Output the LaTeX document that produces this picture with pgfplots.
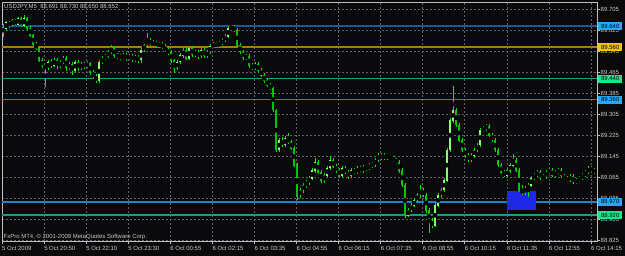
\documentclass[border=0pt]{standalone}
\usepackage{fontspec}
\setmainfont{Liberation Sans}
\usepackage{pgfplots}
\usepackage{pgfplotstable}
\pgfplotsset{compat=1.18}
\definecolor{bg}{RGB}{10,10,12}
\definecolor{gridc}{RGB}{95,95,105}
\definecolor{axisc}{RGB}{190,190,190}
\definecolor{labc}{RGB}{200,200,200}
\definecolor{wickc}{RGB}{0,235,0}
\definecolor{bullc}{RGB}{140,255,110}
\definecolor{bearc}{RGB}{0,200,0}
\definecolor{levA}{RGB}{25,90,135}
\definecolor{levB}{RGB}{170,125,0}
\definecolor{levC}{RGB}{20,160,120}
\definecolor{levD}{RGB}{20,135,210}
\definecolor{boxA}{RGB}{30,170,255}
\definecolor{boxB}{RGB}{245,196,0}
\definecolor{boxC}{RGB}{25,230,140}
\definecolor{zone}{RGB}{30,40,230}

\pgfplotstableread{
x o h l c
3 89.620 89.650 89.600 89.632
6 89.632 89.662 89.625 89.655
9 89.655 89.660 89.635 89.644
12 89.644 89.667 89.640 89.663
15 89.663 89.668 89.645 89.648
18 89.648 89.675 89.644 89.670
21 89.670 89.674 89.636 89.640
24 89.640 89.682 89.636 89.670
27 89.670 89.675 89.625 89.632
30 89.632 89.640 89.600 89.606
33 89.606 89.612 89.565 89.571
36 89.571 89.580 89.549 89.556
39 89.556 89.560 89.505 89.510
42 89.510 89.520 89.480 89.488
45 89.488 89.495 89.408 89.480
48 89.480 89.510 89.472 89.503
51 89.503 89.515 89.480 89.491
54 89.491 89.520 89.484 89.510
57 89.510 89.518 89.478 89.488
60 89.488 89.512 89.480 89.503
63 89.503 89.526 89.494 89.518
66 89.518 89.526 89.470 89.480
69 89.480 89.505 89.472 89.495
72 89.495 89.503 89.455 89.472
75 89.472 89.512 89.465 89.503
78 89.503 89.512 89.470 89.480
81 89.480 89.505 89.472 89.495
84 89.495 89.505 89.478 89.488
87 89.488 89.508 89.480 89.499
90 89.499 89.506 89.455 89.465
93 89.465 89.472 89.440 89.449
96 89.449 89.457 89.422 89.434
99 89.434 89.510 89.426 89.503
102 89.503 89.526 89.495 89.518
105 89.518 89.535 89.510 89.526
108 89.526 89.550 89.518 89.541
111 89.541 89.566 89.533 89.556
114 89.556 89.564 89.520 89.529
117 89.529 89.538 89.515 89.526
120 89.526 89.535 89.512 89.522
123 89.522 89.538 89.514 89.529
126 89.529 89.537 89.508 89.518
129 89.518 89.535 89.510 89.526
132 89.526 89.534 89.504 89.514
135 89.514 89.530 89.506 89.522
138 89.522 89.530 89.500 89.510
141 89.510 89.556 89.502 89.549
144 89.549 89.574 89.541 89.568
147 89.568 89.617 89.560 89.587
150 89.587 89.594 89.563 89.571
153 89.571 89.587 89.563 89.579
156 89.579 89.586 89.560 89.568
159 89.568 89.580 89.560 89.571
162 89.571 89.580 89.555 89.564
165 89.564 89.571 89.540 89.549
168 89.549 89.556 89.532 89.541
171 89.541 89.549 89.500 89.510
174 89.510 89.518 89.461 89.480
177 89.480 89.512 89.472 89.503
180 89.503 89.537 89.495 89.529
183 89.529 89.556 89.520 89.549
186 89.549 89.558 89.510 89.518
189 89.518 89.564 89.510 89.556
192 89.556 89.564 89.525 89.533
195 89.533 89.550 89.524 89.541
198 89.541 89.549 89.517 89.526
201 89.526 89.556 89.518 89.549
204 89.549 89.557 89.520 89.529
207 89.529 89.550 89.520 89.541
210 89.541 89.571 89.533 89.564
213 89.564 89.580 89.556 89.571
216 89.571 89.580 89.560 89.568
219 89.568 89.583 89.560 89.575
222 89.575 89.594 89.567 89.587
225 89.587 89.610 89.579 89.602
228 89.602 89.640 89.594 89.632
231 89.632 89.645 89.621 89.640
234 89.640 89.644 89.617 89.625
237 89.625 89.632 89.560 89.568
240 89.568 89.576 89.533 89.541
243 89.541 89.549 89.510 89.518
246 89.518 89.535 89.510 89.526
249 89.526 89.534 89.480 89.491
252 89.491 89.499 89.472 89.480
255 89.480 89.503 89.472 89.495
258 89.495 89.503 89.464 89.472
261 89.472 89.480 89.445 89.453
264 89.453 89.461 89.426 89.434
267 89.434 89.442 89.407 89.415
270 89.415 89.422 89.396 89.404
273 89.404 89.410 89.312 89.320
276 89.320 89.326 89.160 89.168
279 89.168 89.214 89.160 89.206
282 89.206 89.216 89.179 89.187
285 89.187 89.222 89.179 89.213
288 89.213 89.234 89.190 89.198
291 89.198 89.206 89.167 89.175
294 89.175 89.184 89.103 89.110
297 89.110 89.118 88.977 88.996
300 88.996 89.023 88.986 89.015
303 89.015 89.044 89.006 89.034
306 89.034 89.054 89.024 89.046
309 89.046 89.069 89.036 89.061
312 89.061 89.099 89.053 89.091
315 89.091 89.139 89.083 89.122
318 89.122 89.130 89.076 89.084
321 89.084 89.092 89.045 89.053
324 89.053 89.079 89.042 89.072
327 89.072 89.107 89.064 89.099
330 89.099 89.144 89.091 89.130
333 89.130 89.138 89.099 89.107
336 89.107 89.115 89.083 89.091
339 89.091 89.099 89.064 89.072
342 89.072 89.107 89.064 89.099
345 89.099 89.107 89.076 89.084
348 89.084 89.092 89.060 89.068
351 89.068 89.099 89.060 89.091
354 89.091 89.099 89.076 89.084
357 89.084 89.107 89.076 89.099
360 89.099 89.107 89.083 89.091
363 89.091 89.111 89.083 89.103
366 89.103 89.110 89.091 89.099
369 89.099 89.118 89.091 89.110
372 89.110 89.122 89.102 89.114
375 89.114 89.137 89.106 89.130
378 89.130 89.156 89.122 89.148
381 89.148 89.159 89.129 89.137
384 89.137 89.156 89.129 89.148
387 89.148 89.156 89.133 89.141
390 89.141 89.149 89.129 89.137
393 89.137 89.145 89.122 89.130
396 89.130 89.138 89.114 89.122
399 89.122 89.130 89.083 89.091
402 89.091 89.099 89.026 89.034
405 89.034 89.042 88.908 88.920
408 88.920 88.949 88.912 88.939
411 88.939 88.966 88.931 88.958
414 88.958 88.984 88.950 88.977
417 88.977 89.004 88.969 88.996
420 88.996 89.034 88.986 89.015
423 89.015 89.023 88.988 88.996
426 88.996 89.004 88.931 88.939
429 88.939 88.947 88.851 88.893
432 88.893 88.909 88.871 88.882
435 88.882 88.966 88.874 88.958
438 88.958 89.003 88.950 88.996
441 88.996 89.024 88.986 89.015
444 89.015 89.062 89.007 89.053
447 89.053 89.176 89.045 89.168
450 89.168 89.290 89.160 89.282
453 89.282 89.415 89.274 89.320
456 89.320 89.328 89.255 89.263
459 89.263 89.271 89.198 89.206
462 89.206 89.214 89.160 89.168
465 89.168 89.176 89.140 89.148
468 89.148 89.156 89.122 89.130
471 89.130 89.156 89.122 89.148
474 89.148 89.176 89.140 89.168
477 89.168 89.195 89.160 89.187
480 89.187 89.252 89.179 89.244
483 89.244 89.259 89.236 89.251
486 89.251 89.269 89.243 89.259
489 89.259 89.267 89.217 89.225
492 89.225 89.233 89.198 89.206
495 89.206 89.214 89.160 89.168
498 89.168 89.176 89.103 89.110
501 89.110 89.118 89.076 89.084
504 89.084 89.092 89.064 89.072
507 89.072 89.099 89.064 89.091
510 89.091 89.118 89.083 89.110
513 89.110 89.152 89.102 89.130
516 89.130 89.138 89.083 89.091
519 89.091 89.099 89.007 89.015
522 89.015 89.034 88.996 89.007
525 89.007 89.031 88.999 89.023
528 89.023 89.042 88.991 89.034
531 89.034 89.069 89.026 89.061
534 89.061 89.080 89.053 89.072
537 89.072 89.092 89.064 89.084
540 89.084 89.092 89.053 89.061
543 89.061 89.076 89.053 89.068
546 89.068 89.092 89.060 89.084
549 89.084 89.099 89.076 89.091
552 89.091 89.099 89.064 89.072
555 89.072 89.092 89.064 89.084
558 89.084 89.099 89.076 89.091
561 89.091 89.099 89.060 89.068
564 89.068 89.076 89.053 89.061
567 89.061 89.069 89.045 89.053
570 89.053 89.076 89.045 89.068
573 89.068 89.076 89.038 89.046
576 89.046 89.061 89.038 89.053
579 89.053 89.069 89.045 89.061
582 89.061 89.080 89.053 89.072
585 89.072 89.092 89.064 89.084
588 89.084 89.107 89.076 89.099
591 89.099 89.107 89.083 89.091
594 89.091 89.099 89.076 89.084
}\candles

\begin{document}
\begin{tikzpicture}
\useasboundingbox (-2bp,-15bp) rectangle (623bp,241bp);
\fill[bg] (-2bp,-15bp) rectangle (623bp,241bp);
\begin{axis}[
  at={(0,0)}, anchor=south west, scale only axis,
  width=595bp, height=239bp,
  xmin=2, xmax=597, ymin=88.821, ymax=89.732,
  clip=false,
  axis background/.style={fill=bg},
  axis line style={draw=axisc, line width=0.8bp},
  xtick={2,44.07,86.13,128.2,170.27,212.33,254.4,296.47,338.53,380.6,422.67,464.73,506.8,548.87,590.93},
  xticklabels={5 Oct 2009,5 Oct 20:50,5 Oct 22:10,5 Oct 23:30,6 Oct 00:55,6 Oct 02:15,6 Oct 03:35,6 Oct 04:55,6 Oct 06:15,6 Oct 07:35,6 Oct 08:55,6 Oct 10:15,6 Oct 11:35,6 Oct 12:55,6 Oct 14:15},
  minor x tick num=1,
  ytick={88.825,88.905,88.985,89.065,89.145,89.225,89.305,89.385,89.465,89.545,89.625,89.705},
  yticklabels={88.825,88.905,88.985,89.065,89.145,89.225,89.305,89.385,89.465,89.545,89.625,89.705},
  xtick pos=left, ytick pos=right,
  tick align=outside, major tick length=3bp, minor tick length=0pt,
  tick style={draw=axisc, line width=0.6bp},
  grid=both,
  major grid style={draw=gridc, dash pattern=on 2bp off 2bp, line width=0.6bp},
  minor grid style={draw=gridc, dash pattern=on 2bp off 2bp, line width=0.6bp},
  xticklabel style={anchor=north west, inner sep=0pt, yshift=-2.5bp, text=labc, font=\fontsize{6}{7}\selectfont},
  yticklabel style={anchor=west, inner sep=0pt, xshift=0.5bp, text=labc, font=\fontsize{6}{7}\selectfont},
]
% level lines
\addplot[draw=levA, line width=1.4bp, forget plot] coordinates {(2,89.640) (597,89.640)};
\addplot[draw=levB, line width=1.4bp, forget plot] coordinates {(2,89.560) (597,89.560)};
\addplot[draw=levC, line width=1.4bp, forget plot] coordinates {(2,89.440) (597,89.440)};
\addplot[draw=levD, line width=1.4bp, forget plot] coordinates {(2,89.360) (597,89.360)};
\addplot[draw=levD, line width=1.4bp, forget plot] coordinates {(2,88.970) (597,88.970)};
\addplot[draw=levC, line width=1.4bp, forget plot] coordinates {(2,88.920) (597,88.920)};
% zone rectangle
\addplot[fill=zone, draw=none, forget plot] coordinates {(507,89.013) (536,89.013) (536,88.941) (507,88.941)} -- cycle;
% wicks
\addplot[only marks, mark=none, forget plot,
  error bars/.cd, y dir=both, y explicit, error mark=none,
  error bar style={draw=wickc, solid, line width=0.9bp}]
  table[x=x, y expr={(\thisrow{h}+\thisrow{l})/2}, y error expr={(\thisrow{h}-\thisrow{l})/2}] {\candles};
% bull bodies
\addplot[only marks, mark=none, forget plot,
  restrict expr to domain={\thisrow{c}-\thisrow{o}}{0:1},
  error bars/.cd, y dir=both, y explicit, error mark=none,
  error bar style={draw=bullc, solid, line width=2.4bp}]
  table[x=x, y expr={(\thisrow{o}+\thisrow{c})/2}, y error expr={abs(\thisrow{c}-\thisrow{o})/2+0.001}] {\candles};
% bear bodies
\addplot[only marks, mark=none, forget plot,
  restrict expr to domain={\thisrow{c}-\thisrow{o}}{-1:-0.0005},
  error bars/.cd, y dir=both, y explicit, error mark=none,
  error bar style={draw=bearc, solid, line width=2.4bp}]
  table[x=x, y expr={(\thisrow{o}+\thisrow{c})/2}, y error expr={abs(\thisrow{c}-\thisrow{o})/2+0.001}] {\candles};
% price labels on the right
\begin{scope}[every node/.style={anchor=west, inner sep=0pt, minimum width=24bp, minimum height=8bp, text=black, font=\fontsize{6}{7}\selectfont, xshift=1bp}]
\node[fill=boxA] at (axis cs:597,89.640) {89.640};
\node[fill=boxB] at (axis cs:597,89.560) {89.560};
\node[fill=boxC] at (axis cs:597,89.440) {89.440};
\node[fill=boxA] at (axis cs:597,89.360) {89.360};
\node[fill=boxA] at (axis cs:597,88.970) {88.970};
\node[fill=boxC] at (axis cs:597,88.920) {88.920};
\end{scope}
\node[anchor=north west, inner sep=0pt, xshift=2bp, yshift=-2.5bp, text=labc, font=\fontsize{6}{7}\selectfont] at (rel axis cs:0,1) {USDJPY,M5\ \ 88.691 88.730 88.650 88.652};
\node[anchor=south west, inner sep=0pt, xshift=1.5bp, yshift=1bp, text=labc, font=\fontsize{6}{7}\selectfont] at (rel axis cs:0,0) {FxPro MT4, © 2001-2009 MetaQuotes Software Corp.};
\end{axis}
\end{tikzpicture}
\end{document}
